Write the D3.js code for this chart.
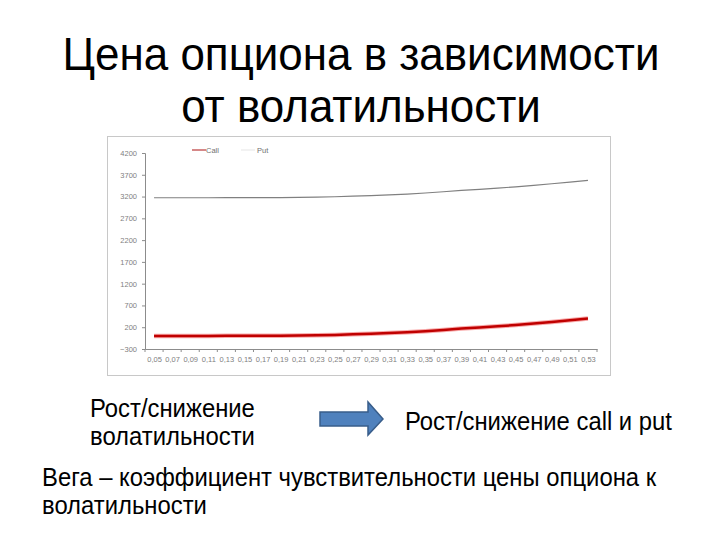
<!DOCTYPE html>
<html>
<head>
<meta charset="utf-8">
<script src="https://cdn.jsdelivr.net/npm/d3@7"></script>
<style>
  body { margin: 0; background: #fff; }
  svg { display: block; font-family: "Liberation Sans", Arial, sans-serif; }
</style>
</head>
<body>
<div id="chart"></div>
<script>
// volatility categories and option prices
const vols = ["0,05","0,07","0,09","0,11","0,13","0,15","0,17","0,19","0,21","0,23","0,25","0,27","0,29",
  "0,31","0,33","0,35","0,37","0,39","0,41","0,43","0,45","0,47","0,49","0,51","0,53"];
const callPrices = [1, 1, 1, 1, 2, 2, 3, 5, 8, 14, 23, 36, 50, 66, 84, 110, 138, 168, 195, 222, 250, 285, 322, 360, 400];
const putPrices = [3173, 3173, 3173, 3173, 3174, 3174, 3175, 3177, 3180, 3186, 3195, 3208, 3222, 3238, 3256,
  3282, 3310, 3340, 3367, 3394, 3422, 3457, 3494, 3532, 3572];
const yTicks = [-300, 200, 700, 1200, 1700, 2200, 2700, 3200, 3700, 4200];
const seriesNames = ["Call", "Put"];

const titleLines = ["Цена опциона в зависимости", "от волатильности"];
const leftText = ["Рост/снижение", "волатильности"];
const rightText = "Рост/снижение call и put";
const footText = ["Вега – коэффициент чувствительности цены опциона к", "волатильности"];

const width = 720, height = 540;
const squeeze = 0.935; // slide text is slightly narrowed
const svg = d3.select("#chart").append("svg")
  .attr("width", width)
  .attr("height", height);

// title
svg.append("g")
  .attr("transform", `translate(361,0) scale(${squeeze},1)`)
  .selectAll("text")
  .data(titleLines)
  .join("text")
  .attr("x", 0)
  .attr("y", (d, i) => 70 + i * 52)
  .attr("text-anchor", "middle")
  .attr("font-size", 47)
  .attr("fill", "#000")
  .text(d => d);

// chart frame
svg.append("rect")
  .attr("x", 107.5).attr("y", 136.5)
  .attr("width", 503).attr("height", 239)
  .attr("fill", "#fff")
  .attr("stroke", "#c8c8c8");

const x = d3.scalePoint().domain(vols).range([145, 597]).padding(0.5);
const xBand = d3.scaleBand().domain(vols).range([145, 597]);
const y = d3.scaleLinear().domain([-300, 4200]).range([349, 153]);

const gx = svg.append("g")
  .attr("transform", `translate(0,${y(-300)})`)
  .call(d3.axisBottom(x).tickSize(0).tickPadding(8));
gx.select(".domain").attr("stroke", "#8c8c8c");
gx.selectAll("text").attr("font-size", 7.5).attr("fill", "#808080").attr("font-family", "Liberation Sans, Arial");

// excel style ticks between categories
svg.append("g").selectAll("line")
  .data(vols.concat(["end"]))
  .join("line")
  .attr("x1", (d, i) => i < vols.length ? xBand(d) : xBand.range()[1])
  .attr("x2", (d, i) => i < vols.length ? xBand(d) : xBand.range()[1])
  .attr("y1", y(-300))
  .attr("y2", y(-300) + 3)
  .attr("stroke", "#8c8c8c");

const gy = svg.append("g")
  .attr("transform", "translate(145,0)")
  .call(d3.axisLeft(y).tickValues(yTicks).tickFormat(d3.format("d")).tickSize(3).tickPadding(5));
gy.select(".domain").attr("stroke", "#8c8c8c");
gy.selectAll(".tick line").attr("stroke", "#8c8c8c");
gy.selectAll("text").attr("font-size", 7.5).attr("fill", "#808080").attr("font-family", "Liberation Sans, Arial");

const line = d3.line()
  .x((d, i) => x(vols[i]))
  .y(d => y(d));

svg.append("path")
  .datum(putPrices)
  .attr("d", line)
  .attr("fill", "none")
  .attr("stroke", "#808080")
  .attr("stroke-width", 1.2);

svg.append("path")
  .datum(callPrices)
  .attr("d", line)
  .attr("fill", "none")
  .attr("stroke", "#f04040")
  .attr("stroke-opacity", 0.45)
  .attr("stroke-width", 4.5);

svg.append("path")
  .datum(callPrices)
  .attr("d", line)
  .attr("fill", "none")
  .attr("stroke", "#c00000")
  .attr("stroke-width", 2.5);

// legend
const legend = svg.append("g").selectAll("g")
  .data(seriesNames)
  .join("g")
  .attr("transform", (d, i) => `translate(${192 + i * 49},150)`);
legend.append("line")
  .attr("x1", 0).attr("x2", 14)
  .attr("stroke", (d, i) => i === 0 ? "#c86060" : "#eeeeee")
  .attr("stroke-width", 1.5);
legend.append("text")
  .attr("x", (d, i) => i === 0 ? 14 : 16)
  .attr("y", 3)
  .attr("font-size", 7.5)
  .attr("fill", "#707070")
  .text(d => d);

// text block below the chart
function squeezedText(sel, x0) {
  return sel.attr("transform", `translate(${x0},0) scale(${squeeze},1)`);
}

squeezedText(svg.append("g"), 90).selectAll("text")
  .data(leftText)
  .join("text")
  .attr("x", 0)
  .attr("y", (d, i) => 417 + i * 28)
  .attr("font-size", 25.5)
  .text(d => d);

const arrowPts = [[320, 412], [368, 412], [368, 402], [383, 419], [368, 435], [368, 426], [320, 426]];
svg.append("path")
  .attr("d", d3.line()(arrowPts) + "Z")
  .attr("fill", "#4f81bd")
  .attr("stroke", "#385d8a")
  .attr("stroke-width", 1.5);

squeezedText(svg.append("g"), 405).append("text")
  .attr("x", 0)
  .attr("y", 430)
  .attr("font-size", 25.5)
  .text(rightText);

squeezedText(svg.append("g"), 42).selectAll("text")
  .data(footText)
  .join("text")
  .attr("x", 0)
  .attr("y", (d, i) => 486 + i * 28)
  .attr("font-size", 25.5)
  .text(d => d);
</script>
</body>
</html>
